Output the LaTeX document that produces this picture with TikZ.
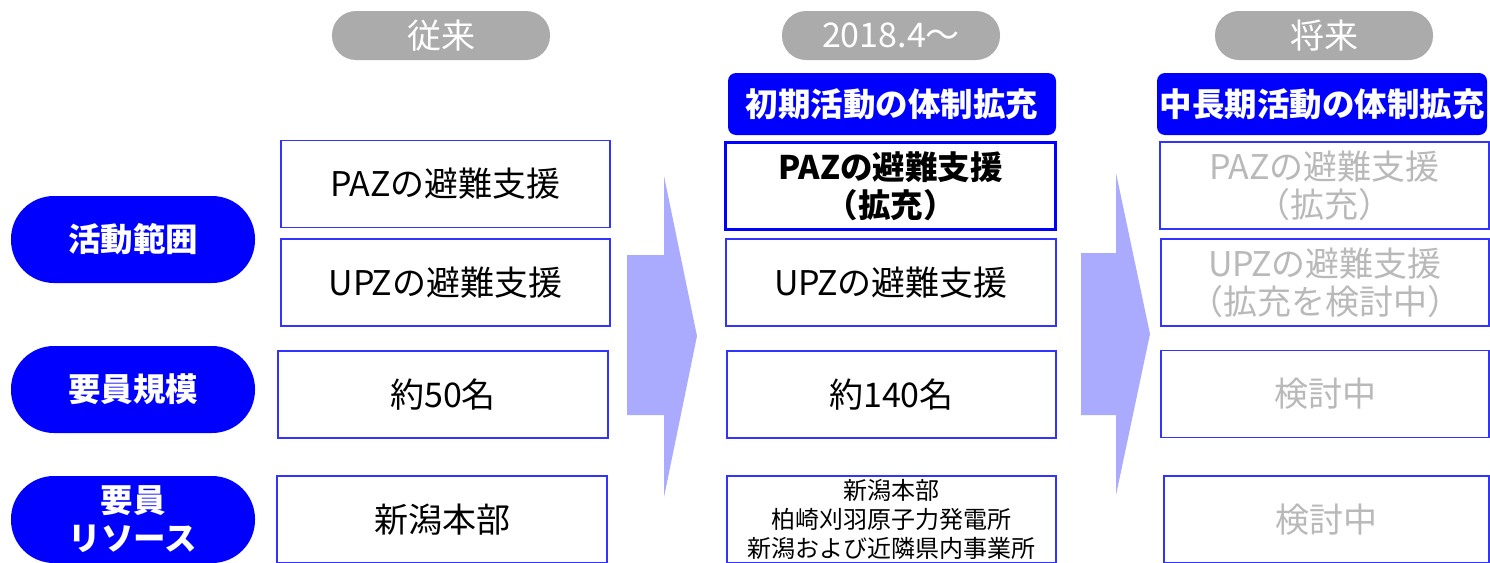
\documentclass[tikz,border=0pt]{standalone}
\usepackage{fontspec}
\setmainfont{Noto Sans CJK JP}
\definecolor{pblue}{RGB}{0,0,255}
\definecolor{bline}{RGB}{51,51,255}
\definecolor{pgrey}{RGB}{171,171,171}
\definecolor{arrowc}{RGB}{170,170,255}
\definecolor{ftext}{RGB}{185,185,185}
\begin{document}
\begin{tikzpicture}[x=1pt,y=-1pt,
  period/.style={fill=pgrey, text=white, rounded corners=24pt, minimum width=218pt, minimum height=49pt, inner sep=0pt, font=\fontsize{34}{38}\selectfont},
  head/.style={fill=pblue, text=white, rounded corners=8pt, minimum height=62pt, inner sep=0pt, font=\bfseries\fontsize{32.5}{36}\selectfont},
  cat/.style={fill=pblue, text=white, rounded corners=43pt, minimum width=244pt, minimum height=87pt, inner sep=0pt, align=center, font=\bfseries\fontsize{32.5}{38}\selectfont},
  cell/.style={draw=bline, line width=1.5pt, fill=white, minimum height=87pt, inner sep=0pt, align=center, font=\fontsize{34}{38}\selectfont},
  future/.style={cell, text=ftext},
  flow/.style={fill=arrowc}]
\useasboundingbox (0,0) rectangle (1490,562);
\clip (0,0) rectangle (1490,562);
% period labels
\node[period] (p1) at (441,35.5) {従来};
\node[period] (p2) at (891,35.5) {2018.4～};
\node[period] (p3) at (1324,35.5) {将来};
% headers
\node[head, minimum width=328pt] (h2) at (892,104) {初期活動の体制拡充};
\node[head, minimum width=330pt] (h3) at (1322,104) {中長期活動の体制拡充};
% categories
\node[cat] (k1) at (133,239.5) {活動範囲};
\node[cat] (k2) at (133,389.5) {要員規模};
\node[cat] (k3) at (133,519.5) {要員\\リソース};
% arrows
\fill[flow] (627,255) -- (664,255) -- (664,176) -- (697,336) -- (664,497) -- (664,415) -- (627,415) -- cycle;
\fill[flow] (1081,253) -- (1116,253) -- (1116,173) -- (1150,334) -- (1116,495) -- (1116,415) -- (1081,415) -- cycle;
% column 1
\node[cell, minimum width=329pt] (c1paz) at (445.5,184) {PAZの避難支援};
\node[cell, minimum width=329pt] (c1upz) at (445.5,282.5) {UPZの避難支援};
\node[cell, minimum width=330pt] (c1num) at (443,394.5) {約50名};
\node[cell, minimum width=330pt] (c1res) at (442,519.5) {新潟本部};
% column 2
\node[cell, line width=3pt, draw=pblue, minimum width=330pt, font=\bfseries\fontsize{32.5}{38}\selectfont] (c2paz) at (890.5,186) {PAZの避難支援\\（拡充）};
\node[cell, minimum width=330pt] (c2upz) at (891,282.5) {UPZの避難支援};
\node[cell, minimum width=329pt] (c2num) at (891.5,394.5) {約140名};
\node[cell, minimum width=329pt, font=\fontsize{24}{29}\selectfont] (c2res) at (891.5,519.5) {新潟本部\\柏崎刈羽原子力発電所\\新潟および近隣県内事業所};
% column 3
\node[future, minimum width=329pt] (c3paz) at (1324.5,185.5) {PAZの避難支援\\（拡充）};
\node[future, minimum width=328pt] (c3upz) at (1325,282.5) {UPZの避難支援\\（拡充を検討中）};
\node[future, minimum width=328pt] (c3num) at (1325,394) {検討中};
\node[future, minimum width=325pt] (c3res) at (1326.5,519.5) {検討中};
\end{tikzpicture}
\end{document}
